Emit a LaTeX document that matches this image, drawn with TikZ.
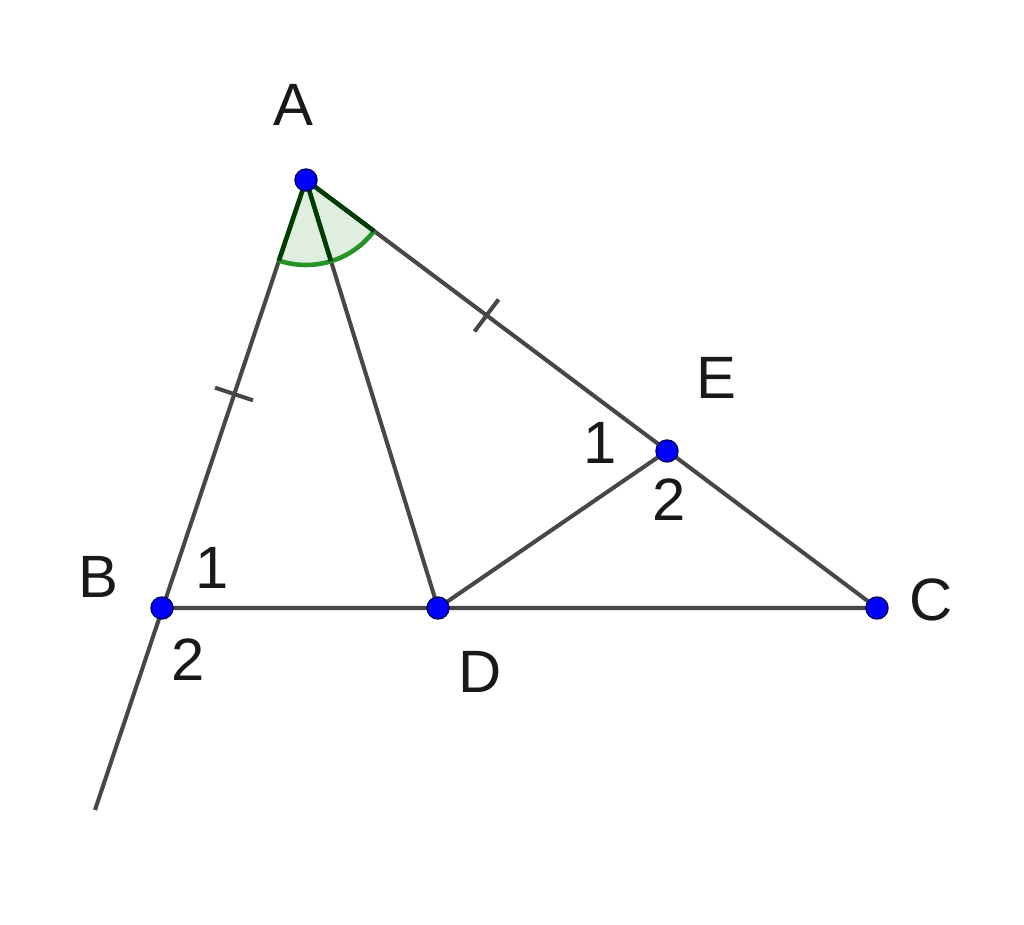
\documentclass[tikz,border=0pt]{standalone}
\usepackage{fontspec}
\setmainfont{Liberation Sans}
\begin{document}
\begin{tikzpicture}[x=0.01cm,y=0.01cm,
  seg/.style={draw=black!72, line width=1.15pt},
  pt/.style={circle, fill=blue, draw=black!60!blue, line width=0.4pt, inner sep=0pt, minimum size=0.22cm},
  lbl/.style={font=\fontsize{17}{17}\selectfont, text=black!90, inner sep=0pt},
  tick/.style={draw=black!72, line width=1.15pt}]
\useasboundingbox (0,0) rectangle (1024,924);
\coordinate (A) at (306,744);
\coordinate (B) at (162,316);
\coordinate (D) at (438,316);
\coordinate (C) at (877,316);
\coordinate (E) at (667,473);
\coordinate (F) at (95,114);
% sector
\fill[green!45!black!12!white] (A) -- ++(251.4:85) arc[start angle=251.4, end angle=323.1, radius=85] -- cycle;
% lines
\draw[seg] (F) -- (A) -- (C) -- (B);
\draw[seg] (A) -- (D) -- (E);
% angle marks
\draw[green!50!black!85, line width=1.3pt] (A) ++(251.4:85) arc[start angle=251.4, end angle=323.1, radius=85];
\draw[black!40!green!40!black, line width=1.3pt] (A) -- ++(251.4:85);
\draw[black!40!green!40!black, line width=1.3pt] (A) -- ++(287.1:85);
\draw[black!40!green!40!black, line width=1.3pt] (A) -- ++(323.1:85);
% equal ticks
\path (A) -- (B) coordinate[pos=0.5] (mAB);
\path (A) -- (E) coordinate[pos=0.5] (mAE);
\draw[tick] (mAB) ++(-18.4:20) -- ++(161.6:40);
\draw[tick] (mAE) ++(53.1:20) -- ++(233.1:40);
% points
\node[pt] (pA) at (A) {};
\node[pt] (pB) at (B) {};
\node[pt] (pD) at (D) {};
\node[pt] (pC) at (C) {};
\node[pt] (pE) at (E) {};
% labels
\node[lbl] (lA) at (293,819) {A};
\node[lbl] (lB) at (98,347) {B};
\node[lbl] (lC) at (931,324) {C};
\node[lbl] (lD) at (480,252) {D};
\node[lbl] (lE) at (716,546) {E};
\node[lbl] (e1) at (600,481) {1};
\node[lbl] (e2) at (669,424) {2};
\node[lbl] (b1) at (212,356) {1};
\node[lbl] (b2) at (188,264) {2};
\end{tikzpicture}
\end{document}
